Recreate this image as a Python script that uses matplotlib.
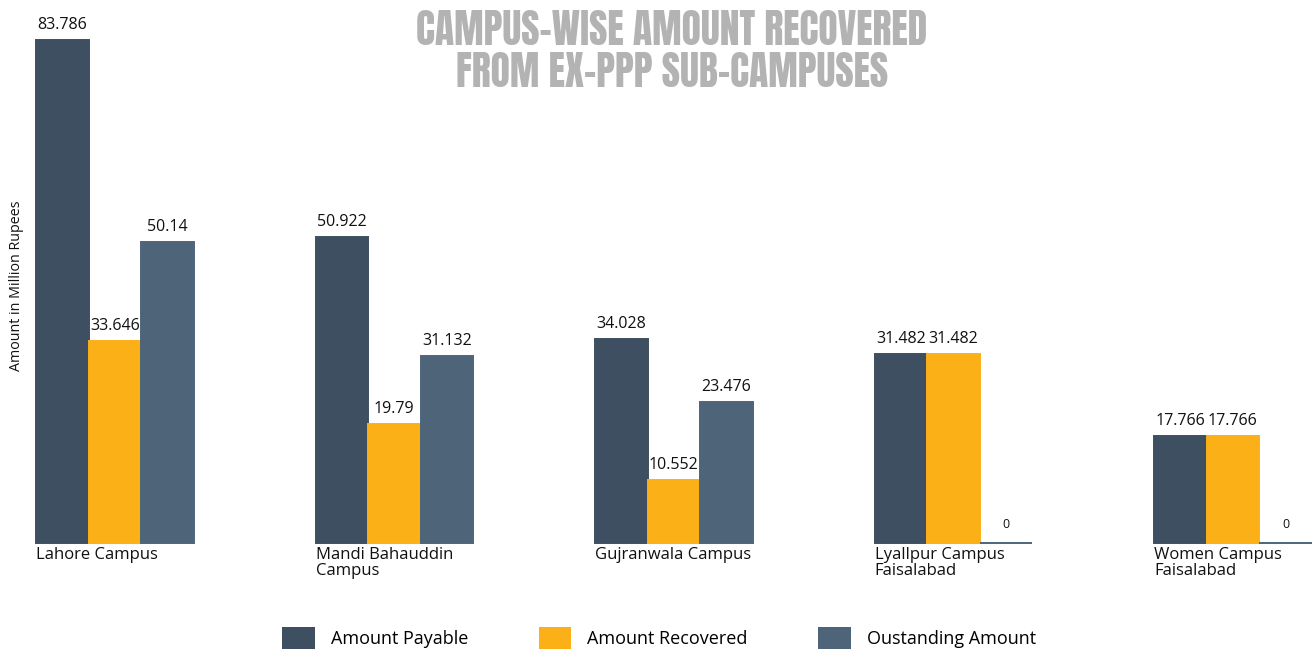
import numpy as np
import matplotlib; matplotlib.use('Agg'); import matplotlib.pyplot as plt
from matplotlib.patches import Patch

campuses = ['Lahore Campus', 'Mandi Bahauddin\nCampus', 'Gujranwala Campus',
            'Lyallpur Campus\nFaisalabad', 'Women Campus\nFaisalabad']
payable = [83.786, 50.922, 34.028, 31.482, 17.766]
recovered = [33.646, 19.79, 10.552, 31.482, 17.766]
outstanding = [50.14, 31.132, 23.476, 0, 0]
series_names = ['Amount Payable', 'Amount Recovered', 'Oustanding Amount']
colors = ['#3d4f60', '#fbb018', '#4e6479']

plt.rcParams['font.family'] = ['Open Sans', 'DejaVu Sans']

W, H = 1314, 651
fig = plt.figure(figsize=(W/100, H/100), dpi=100)
ax = fig.add_axes([36/W, (H-543)/H, (1312-36)/W, 503/H])

x = np.arange(len(campuses))
w = 0.188
for k, (vals, c) in enumerate(zip([payable, recovered, outstanding], colors)):
    pos = x + (k-1)*w
    ax.bar(pos, vals, w, color=c, edgecolor=c, linewidth=1.4, clip_on=False)
    for p, v in zip(pos, vals):
        ax.annotate(f'{v:g}', (p, v), xytext=(0, 5 if v else 9), textcoords='offset points',
                    ha='center', va='bottom', fontsize=11.5 if v else 9, color='#111111')

ax.set_xlim(-0.281, 4.283)
ax.set_ylim(0, 83.786)
ax.set_xticks(x - 1.5*w)
ax.set_xticklabels(campuses, ha='left', va='top', fontsize=12, linespacing=0.95, color='#111111')
ax.tick_params(axis='x', length=0, pad=3)
ax.set_yticks([])
for s in ax.spines.values():
    s.set_visible(False)

fig.text(17/W, 1-286/H, 'Amount in Million Rupees', rotation=90, ha='center', va='center',
         fontsize=10.3, color='#111111')

fig.text(672/W, 1-51/H, 'CAMPUS-WISE AMOUNT RECOVERED\nFROM EX-PPP SUB-CAMPUSES',
         ha='center', va='center', fontsize=28.5, color='#b3b3b3',
         family=['Anton', 'DejaVu Sans'], linespacing=1.08)

handles = [Patch(facecolor=c, edgecolor='none') for c in colors]
fig.legend(handles, series_names, loc='center', bbox_to_anchor=(659/W, 1-638/H), ncol=3,
           frameon=False, fontsize=13, handlelength=1.8, handleheight=1.5,
           handletextpad=0.9, columnspacing=3.9)

fig.savefig('out.png', dpi=100)
